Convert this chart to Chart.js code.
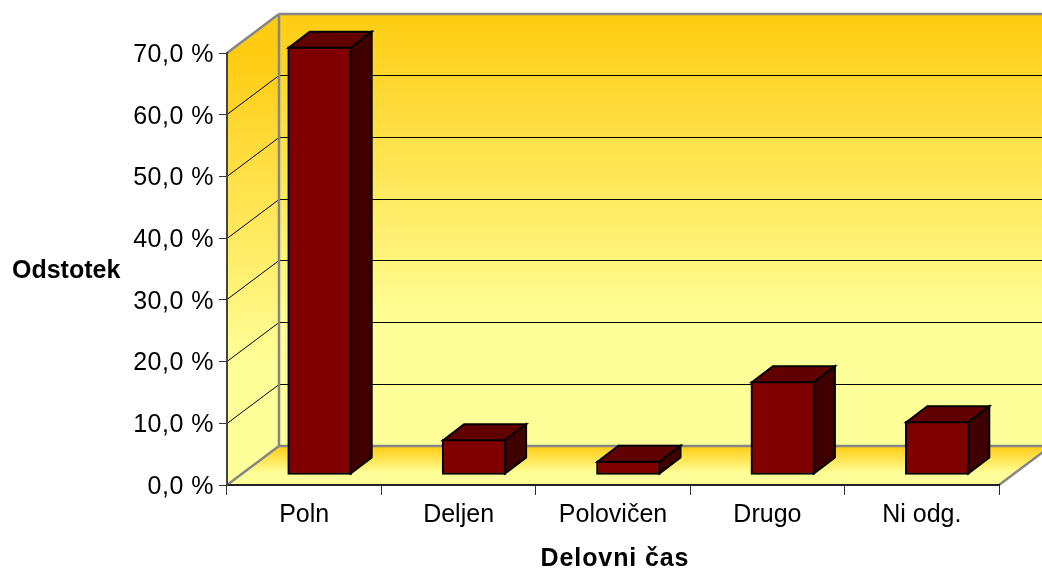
<!DOCTYPE html>
<html>
<head>
<meta charset="utf-8">
<title>Delovni čas</title>
<script src="https://cdn.jsdelivr.net/npm/chart.js@4/dist/chart.umd.min.js"></script>
<style>
  html, body { margin: 0; padding: 0; background: #fff; overflow: hidden; }
  canvas { display: block; }
</style>
</head>
<body>
<canvas id="myChart" width="1042" height="572"></canvas>
<script>
const categories = ["Poln", "Deljen", "Polovičen", "Drugo", "Ni odg."];
const values = [69.4, 5.8, 2.3, 15.2, 8.7];
const y_tick_labels = ["0,0 %", "10,0 %", "20,0 %", "30,0 %", "40,0 %", "50,0 %", "60,0 %", "70,0 %"];
const y_title = "Odstotek";
const x_title = "Delovni čas";

const font_name = '"Liberation Sans", Arial, sans-serif';
// fake 3D: how far the back wall sits from the front plane
const depth_x = 52;
const depth_y = -39;
// bars stand part way into the floor
const bar_dx = 15.5;
const bar_dy = -10;
const bar_depth_x = 21;
const bar_depth_y = -16;

function polygon(ctx, pts, fill) {
  ctx.beginPath();
  ctx.moveTo(pts[0][0], pts[0][1]);
  for (let i = 1; i < pts.length; i++) ctx.lineTo(pts[i][0], pts[i][1]);
  ctx.closePath();
  if (fill) {
    ctx.fillStyle = fill;
    ctx.fill();
  }
}

function segment(ctx, x1, y1, x2, y2) {
  ctx.beginPath();
  ctx.moveTo(x1, y1);
  ctx.lineTo(x2, y2);
  ctx.stroke();
}

const walls = {
  id: "walls",
  beforeDraw(chart) {
    const ctx = chart.ctx;
    const { left, right, top, bottom } = chart.chartArea;
    const y = chart.scales.y;
    ctx.save();

    // back wall
    let grad = ctx.createLinearGradient(0, top + depth_y, 0, bottom + depth_y);
    grad.addColorStop(0, "#ffcc11");
    grad.addColorStop(0.72, "#ffff99");
    grad.addColorStop(1, "#ffff99");
    polygon(ctx, [[left + depth_x, top + depth_y], [right + depth_x, top + depth_y],
      [right + depth_x, bottom + depth_y], [left + depth_x, bottom + depth_y]], grad);

    // side wall
    grad = ctx.createLinearGradient(0, top, 0, bottom);
    grad.addColorStop(0, "#ffcc11");
    grad.addColorStop(0.72, "#ffff99");
    grad.addColorStop(1, "#ffff99");
    polygon(ctx, [[left, top], [left + depth_x, top + depth_y],
      [left + depth_x, bottom + depth_y], [left, bottom]], grad);

    // floor
    grad = ctx.createLinearGradient(0, bottom + depth_y, 0, bottom);
    grad.addColorStop(0, "#ffcc11");
    grad.addColorStop(0.7, "#ffff99");
    grad.addColorStop(1, "#ffff99");
    polygon(ctx, [[left, bottom], [left + depth_x, bottom + depth_y],
      [right + depth_x, bottom + depth_y], [right, bottom]], grad);

    // gridlines on back and side wall
    ctx.strokeStyle = "#000";
    ctx.lineWidth = 1;
    for (let i = 1; i < y_tick_labels.length - 1; i++) {
      const py = Math.round(y.getPixelForValue(i * 10) - 0.4) + 0.5;
      segment(ctx, left, py, left + depth_x, py + depth_y);
      segment(ctx, left + depth_x, py + depth_y, right + depth_x, py + depth_y);
    }

    // wall outline
    ctx.strokeStyle = "#858585";
    ctx.lineWidth = 2.5;
    segment(ctx, left, top, left + depth_x, top + depth_y);
    segment(ctx, left + depth_x, top + depth_y, right + depth_x, top + depth_y);
    segment(ctx, left + depth_x, top + depth_y, left + depth_x, bottom + depth_y);
    segment(ctx, left, bottom, left + depth_x, bottom + depth_y);
    segment(ctx, left + depth_x, bottom + depth_y, right + depth_x, bottom + depth_y);
    segment(ctx, right, bottom, right + depth_x, bottom + depth_y);
    ctx.restore();
  },
  beforeDatasetsDraw(chart) {
    chart.ctx.save();
    chart.ctx.translate(bar_dx, bar_dy);
  },
  afterDatasetsDraw(chart) {
    const ctx = chart.ctx;
    // top and side face of every bar, taken from the library's bar elements
    chart.getDatasetMeta(0).data.forEach((bar) => {
      const x1 = bar.x - bar.width / 2 + 1;
      const x2 = bar.x + bar.width / 2 - 1;
      const y1 = bar.y + 1;
      const y2 = bar.base - 1;
      ctx.lineWidth = 2;
      ctx.strokeStyle = "#000";
      ctx.lineJoin = "miter";
      polygon(ctx, [[x1, y1], [x1 + bar_depth_x, y1 + bar_depth_y],
        [x2 + bar_depth_x, y1 + bar_depth_y], [x2, y1]], "#600000");
      ctx.stroke();
      polygon(ctx, [[x2, y1], [x2 + bar_depth_x, y1 + bar_depth_y],
        [x2 + bar_depth_x, y2 + bar_depth_y], [x2, y2]], "#400000");
      ctx.stroke();
    });
    ctx.restore();

    // the y title stands horizontal, chart.js only rotates it
    ctx.save();
    ctx.fillStyle = "#000";
    ctx.font = "bold 25px " + font_name;
    ctx.textAlign = "left";
    ctx.textBaseline = "middle";
    ctx.fillText(y_title, 12, 271);
    ctx.restore();
  },
};

// the original text sits a bit lower and wider than chart.js puts it
function nudge(scale, method, dx, dy, spacing) {
  const orig = scale.constructor.prototype[method];
  scale[method] = function (...args) {
    const ctx = this.ctx;
    ctx.save();
    ctx.translate(dx, dy);
    ctx.letterSpacing = spacing;
    orig.apply(this, args);
    ctx.restore();
  };
}

new Chart(document.getElementById("myChart"), {
  type: "bar",
  data: {
    labels: categories,
    datasets: [{
      data: values,
      backgroundColor: "#800000",
      borderColor: "#000",
      borderWidth: 2,
      borderSkipped: false,
      barThickness: 64,
      clip: false,
    }],
  },
  options: {
    responsive: false,
    animation: false,
    layout: { padding: { top: 53, right: 43, left: 0, bottom: 0 } },
    plugins: { legend: { display: false }, tooltip: { enabled: false } },
    scales: {
      x: {
        afterFit(scale) {
          scale.height = 87;
          nudge(scale, "drawTitle", 2, 0, "0.9px");
        },
        grid: { drawOnChartArea: false, color: "#333", lineWidth: 1, tickLength: 10, tickColor: "#333" },
        border: { color: "#222", width: 2 },
        ticks: { color: "#000", font: { family: font_name, size: 25 }, padding: 5, maxRotation: 0 },
        title: {
          display: true,
          text: x_title,
          color: "#000",
          font: { family: font_name, size: 25, weight: "bold", lineHeight: 1 },
          padding: { top: 0, bottom: 0 },
        },
      },
      y: {
        min: 0,
        max: 70,
        afterFit(scale) {
          scale.width = 227;
          nudge(scale, "drawLabels", 0, 2, "0.5px");
        },
        grid: { drawOnChartArea: false, color: "#333", lineWidth: 1, tickLength: 8, tickColor: "#333" },
        border: { color: "#444", width: 2 },
        ticks: {
          stepSize: 10,
          color: "#000",
          font: { family: font_name, size: 25 },
          padding: 5,
          callback: (value) => y_tick_labels[value / 10],
        },
      },
    },
  },
  plugins: [walls],
});
</script>
</body>
</html>
